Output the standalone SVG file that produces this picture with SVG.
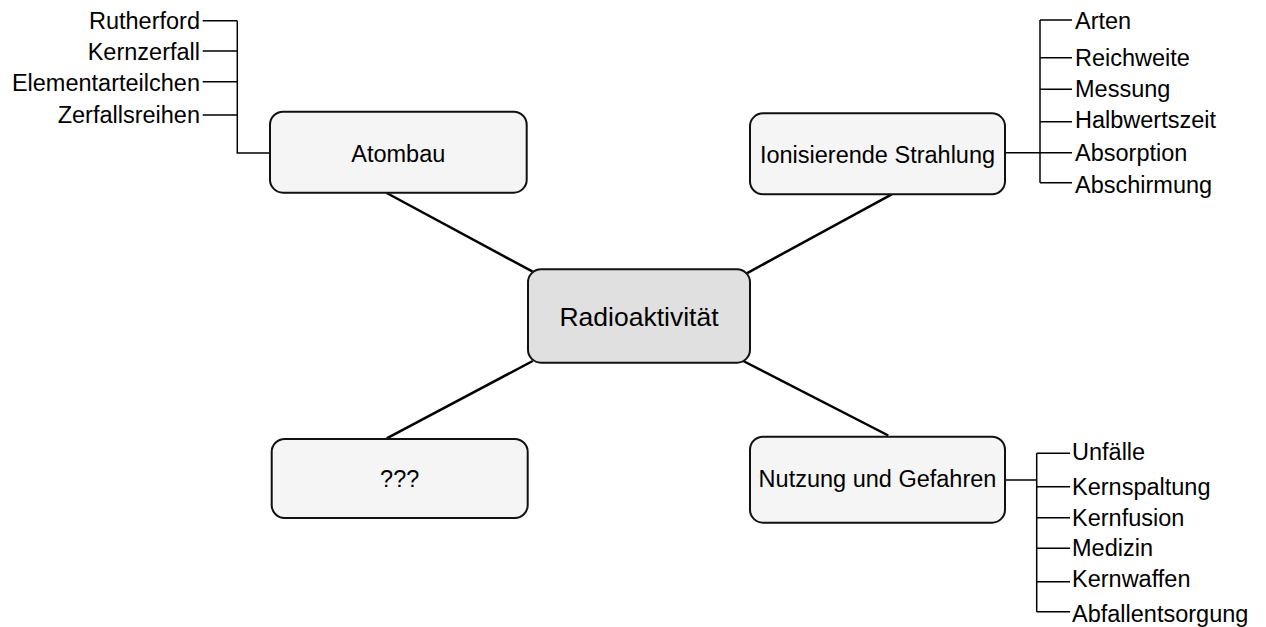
<svg xmlns="http://www.w3.org/2000/svg" width="1266" height="627" viewBox="0 0 1266 627">
<style>
  .box { fill: #f5f5f5; stroke: #111; stroke-width: 2; }
  .center { fill: #e0e0e0; stroke: #111; stroke-width: 2; }
  .lbl { font-family: "Liberation Sans", Arial, sans-serif; font-size: 23.5px; fill: #000; }
  .big { font-size: 26.5px; }
  .spoke { stroke: #000; stroke-width: 2.5; fill: none; }
  .branch { stroke: #000; stroke-width: 1.5; fill: none; }
</style>
<rect width="1266" height="627" fill="#fff"/>
<g id="connectors">
  <line class="spoke" x1="386.7" y1="193" x2="532.7" y2="271.7"/>
  <line class="spoke" x1="891.7" y1="194.3" x2="746.7" y2="273.3"/>
  <line class="spoke" x1="532.7" y1="361" x2="386.7" y2="438.3"/>
  <line class="spoke" x1="743.3" y1="361" x2="888.3" y2="435.5"/>
  <!-- Atombau branches -->
  <path class="branch" d="M202.7 20.7 H237.3 M202.7 51 H237.3 M202.7 81.7 H237.3 M202.7 115 H237.3 M237.3 20.7 V153 H270"/>
  <!-- Ionisierende Strahlung branches -->
  <path class="branch" d="M1005 152.7 H1040 M1040 20 V182.7 M1040 20 H1072 M1040 57.7 H1072 M1040 89.3 H1072 M1040 121.7 H1072 M1040 152.7 H1072 M1040 182.7 H1072"/>
  <!-- Nutzung und Gefahren branches -->
  <path class="branch" d="M1005 480 H1036.7 M1036.7 453.3 V611.7 M1036.7 453.3 H1070 M1036.7 486.7 H1070 M1036.7 517.7 H1070 M1036.7 548.3 H1070 M1036.7 581.7 H1070 M1036.7 611.7 H1070"/>
</g>
<g id="node-center">
  <rect class="center" x="528" y="269.3" width="222" height="93.4" rx="13"/>
  <text class="lbl big" x="639" y="326" text-anchor="middle">Radioaktivität</text>
</g>
<g id="node-atombau">
  <rect class="box" x="270" y="111.7" width="256.7" height="81" rx="13"/>
  <text class="lbl" x="398.3" y="161.7" text-anchor="middle">Atombau</text>
</g>
<g id="node-ionisierende">
  <rect class="box" x="750" y="113.3" width="255" height="81" rx="13"/>
  <text class="lbl" x="877.5" y="162.5" text-anchor="middle">Ionisierende Strahlung</text>
</g>
<g id="node-unknown">
  <rect class="box" x="271.7" y="439" width="256" height="79" rx="13"/>
  <text class="lbl" x="399.7" y="487" text-anchor="middle">???</text>
</g>
<g id="node-nutzung">
  <rect class="box" x="750" y="436.7" width="255" height="86" rx="13"/>
  <text class="lbl" x="877.5" y="487" text-anchor="middle">Nutzung und Gefahren</text>
</g>
<g id="labels-atombau" class="lbl" text-anchor="end">
  <text x="200" y="29.3">Rutherford</text>
  <text x="200" y="59.6">Kernzerfall</text>
  <text x="200" y="90.5">Elementarteilchen</text>
  <text x="200" y="123.3">Zerfallsreihen</text>
</g>
<g id="labels-ionisierende" class="lbl">
  <text x="1075" y="29.3">Arten</text>
  <text x="1075" y="66">Reichweite</text>
  <text x="1075" y="96.7">Messung</text>
  <text x="1075" y="128.3">Halbwertszeit</text>
  <text x="1075" y="161">Absorption</text>
  <text x="1075" y="192.7">Abschirmung</text>
</g>
<g id="labels-nutzung" class="lbl">
  <text x="1072" y="460">Unfälle</text>
  <text x="1072" y="495">Kernspaltung</text>
  <text x="1072" y="526">Kernfusion</text>
  <text x="1072" y="556">Medizin</text>
  <text x="1072" y="586.7">Kernwaffen</text>
  <text x="1072" y="621.7">Abfallentsorgung</text>
</g>
</svg>
